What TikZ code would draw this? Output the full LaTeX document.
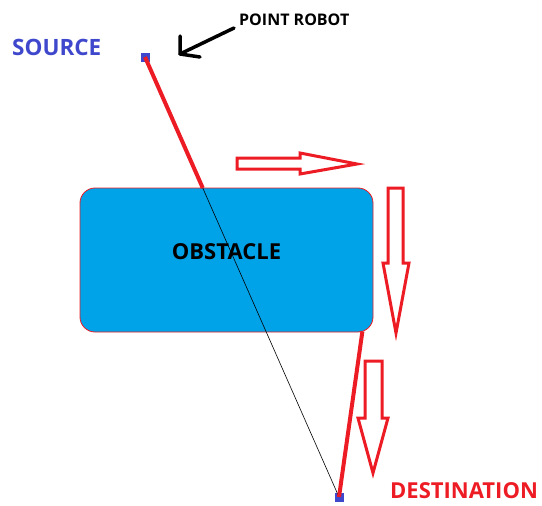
\documentclass[tikz,border=0pt]{standalone}
\usepackage{fontspec}
\setmainfont{Open Sans}
\usetikzlibrary{calc,arrows.meta}
\definecolor{pred}{RGB}{237,28,36}
\definecolor{pblue}{RGB}{63,72,204}
\definecolor{pcyan}{RGB}{0,162,232}
\tikzset{
  ptbox/.style={rectangle,fill=pblue,inner sep=0pt,minimum size=9pt},
  obstbox/.style={rectangle,rounded corners=15pt,fill=pcyan,draw=pred,line width=0.8pt,
    minimum width=293pt,minimum height=144pt},
  path line/.style={draw=pred,line width=4pt},
  direct line/.style={draw=black,line width=0.6pt},
  hollow arrow/.style={draw=pred,line width=3pt,line join=miter},
  label/.style={inner sep=0pt,anchor=west,font=\bfseries},
  pointer/.style={draw=black,line width=3.5pt,line cap=round,line join=round}
}
\begin{document}
\begin{tikzpicture}[x=1pt,y=-1pt]
\useasboundingbox (0,0) rectangle (542,506);

% obstacle
\node[obstbox] (obs) at (226.5,260) {};
\node[inner sep=0pt,font=\fontsize{22}{26}\selectfont\bfseries] (obstxt) at (226.5,251.5) {OBSTACLE};

% start and goal points
\node[ptbox] (src) at (145,57) {};
\node[ptbox] (dst) at (339,497) {};

% straight line through the obstacle
\draw[direct line] (src.center) -- (dst.center);

% path taken around the obstacle
\coordinate (hit) at ($(src.center)!0.2977!(dst.center)$);
\coordinate (exit) at ($(obs.south east)+(-11,-1)$);
\draw[path line] (src.center) -- (hit);
\draw[path line] (exit) -- (dst.center);

% motion arrows
\draw[hollow arrow] (237,158) -- (300,158) -- (300,153) -- (357,164) -- (300,174) -- (300,169) -- (237,169) -- cycle;
\draw[hollow arrow] (388,188) -- (403,188) -- (403,263) -- (409,263) -- (396,333) -- (383,263) -- (388,263) -- cycle;
\draw[hollow arrow] (365,361) -- (382,361) -- (382,418) -- (388,418) -- (373,473) -- (358,418) -- (365,418) -- cycle;

% labels
\node[label,text=pblue,font=\fontsize{22.5}{26}\selectfont\bfseries] (srclbl) at (12,47) {SOURCE};
\node[label,text=pred,font=\fontsize{22}{26}\selectfont\bfseries] (dstlbl) at (390,491) {DESTINATION};
\node[label,text=black,font=\fontsize{16}{19}\selectfont\bfseries] (robot) at (239,20) {POINT ROBOT};

% pointer to the robot
\coordinate (tip) at (180,54);
\draw[pointer] ($(robot.west)+(-5,8)$) -- (tip);
\draw[pointer] (180,36) -- (tip) -- (200,57);
\end{tikzpicture}
\end{document}
